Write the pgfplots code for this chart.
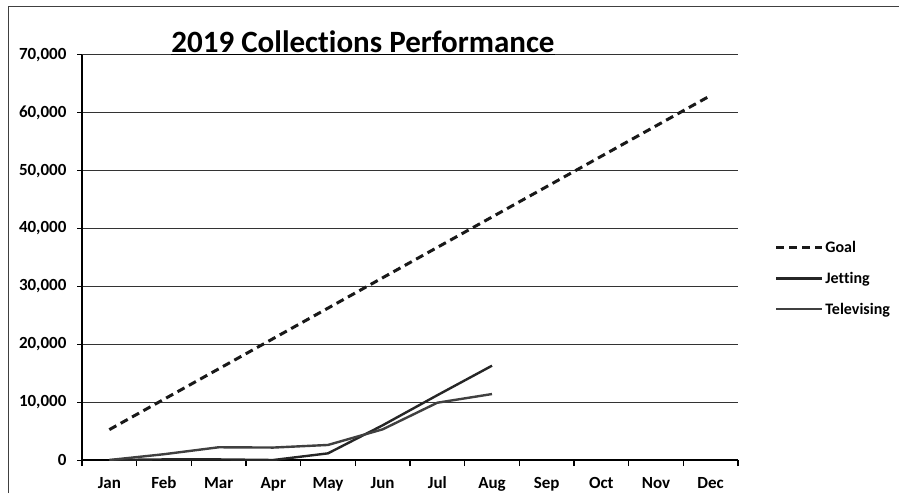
\documentclass[border=0pt]{standalone}
\usepackage{fontspec}
\setmainfont{Carlito}[Ligatures=NoCommon]
\usepackage{pgfplots}
\pgfplotsset{compat=1.18}
\begin{document}
\begin{tikzpicture}
\useasboundingbox (0,0) rectangle (899pt,493pt);
% outer chart frame (only left and top edges visible)
\draw[line width=1pt, black!75] (8pt,0pt) -- (8pt,486pt) -- (899pt,486pt);
\begin{axis}[
    at={(82pt,33pt)}, anchor=south west,
    scale only axis,
    width=656pt, height=405pt,
    xmin=-0.5, xmax=11.5,
    ymin=0, ymax=70000,
    axis lines*=left,
    axis line style={line width=1.3pt, black},
    xtick={0,...,11},
    xticklabels={Jan,Feb,Mar,Apr,May,Jun,Jul,Aug,Sep,Oct,Nov,Dec},
    major x tick style={draw=none},
    minor xtick={-0.5,0.5,...,11.5},
    minor x tick style={line width=1.3pt, black},
    minor tick length=6pt,
    ytick={0,10000,...,70000},
    major tick length=5pt,
    tick align=outside,
    y tick style={line width=1pt, black},
    ymajorgrids=true,
    grid style={line width=1pt, black!80},
    scaled y ticks=false,
    /pgf/number format/.cd, fixed, 1000 sep={,}, assume math mode=true,
    /pgfplots/.cd,
    tick label style={font=\fontsize{17}{19}\selectfont\bfseries},
    yticklabel style={xshift=-7pt},
    xticklabel style={anchor=base, yshift=-23.5pt},
    legend style={at={(1.056,0.448)}, anchor=west, draw=none, fill=none,
        font=\fontsize{16}{18}\selectfont\bfseries,
        row sep=15pt, inner sep=0pt,
        nodes={inner sep=1.5pt}},
    legend cell align=left,
    legend image code/.code={\draw[#1] (0pt,0pt) -- (46pt,0pt);},
]
\addplot[black!90, line width=3pt, dash pattern=on 8pt off 5pt] coordinates {
    (0,5250)(1,10500)(2,15750)(3,21000)(4,26250)(5,31500)
    (6,36750)(7,42000)(8,47250)(9,52500)(10,57750)(11,63000)
};
\addplot[black!85, line width=2.4pt] coordinates {
    (0,0)(1,100)(2,100)(3,0)(4,1150)(5,6000)(6,11200)(7,16300)
};
\addplot[black!75, line width=2.4pt] coordinates {
    (0,0)(1,1000)(2,2200)(3,2150)(4,2600)(5,5300)(6,9900)(7,11400)
};
\legend{Goal,Jetting,Televising}
\end{axis}
\node[anchor=base, font=\fontsize{31}{33}\selectfont\bfseries] at (363pt,440pt) {\underline{2019 Collections Performance}};
\end{tikzpicture}
\end{document}
